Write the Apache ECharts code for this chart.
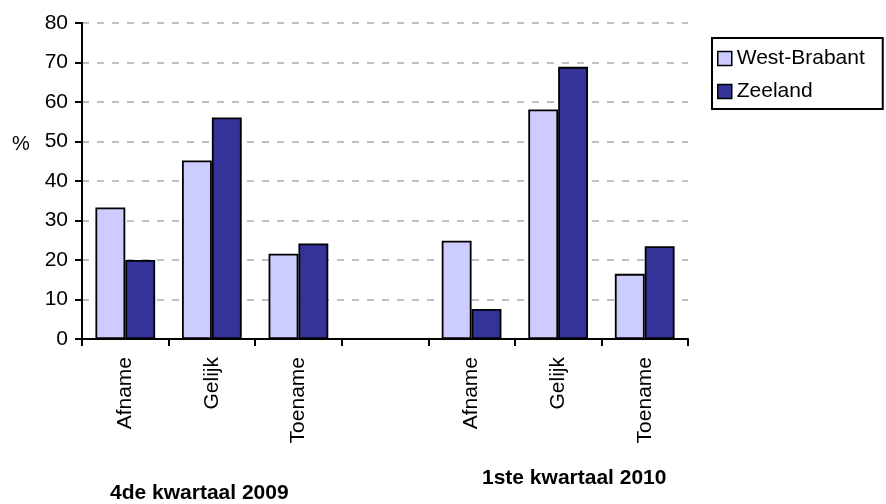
<!DOCTYPE html>
<html>
<head>
<meta charset="utf-8">
<script src="https://cdn.jsdelivr.net/npm/echarts@6/dist/echarts.min.js"></script>
<style>
html,body{margin:0;padding:0;background:#fff;}
#c{width:886px;height:504px;}
</style>
</head>
<body>
<div id="c"></div>
<script>
var categories = ['Afname', 'Gelijk', 'Toename', '', 'Afname', 'Gelijk', 'Toename'];
var westBrabant = [33.3, 45.2, 21.6, null, 24.9, 58.1, 16.5];
var zeeland = [20.0, 56.1, 24.2, null, 7.6, 68.9, 23.5];
var yTicks = {min: 0, max: 80, interval: 10};
var groupLabels = ['4de kwartaal 2009', '1ste kwartaal 2010'];
var seriesNames = ['West-Brabant', 'Zeeland'];

var FONT = 'Arial, "Liberation Sans", sans-serif';
var chart = echarts.init(document.getElementById('c'));
chart.setOption({
  animation: false,
  backgroundColor: '#ffffff',
  textStyle: {fontFamily: FONT},
  grid: {left: 82, right: 198, top: 23, bottom: 165, containLabel: false},
  legend: {
    orient: 'vertical',
    left: 712, top: 38,
    padding: [10, 18, 7, 5],
    itemGap: 12,
    itemWidth: 14, itemHeight: 14,
    borderColor: '#000', borderWidth: 2,
    icon: 'rect',
    itemStyle: {borderColor: '#000', borderWidth: 1.5},
    textStyle: {fontFamily: FONT, fontSize: 21, color: '#000', lineHeight: 21},
    data: seriesNames
  },
  xAxis: {
    type: 'category',
    data: categories,
    axisLine: {lineStyle: {color: '#000', width: 2}},
    axisTick: {show: true, length: 7, lineStyle: {color: '#000', width: 2}},
    axisLabel: {rotate: 90, margin: 18, fontSize: 21, color: '#000', fontFamily: FONT, interval: 0}
  },
  yAxis: {
    type: 'value',
    min: yTicks.min, max: yTicks.max, interval: yTicks.interval,
    axisLine: {show: true, lineStyle: {color: '#000', width: 2}},
    axisTick: {show: true, length: 7, lineStyle: {color: '#000', width: 2}},
    axisLabel: {margin: 14, fontSize: 21, color: '#000', fontFamily: FONT},
    splitLine: {show: true, lineStyle: {color: '#c0c0c0', width: 2, type: [7, 8]}}
  },
  graphic: [
    {type: 'text', left: 12, top: 134, style: {text: '%', font: '20px ' + FONT, fill: '#000'}},
    {type: 'text', left: 110, top: 483, style: {text: groupLabels[0], font: 'bold 21px ' + FONT, fill: '#000'}},
    {type: 'text', left: 482, top: 468, style: {text: groupLabels[1], font: 'bold 21px ' + FONT, fill: '#000'}}
  ],
  series: [
    {
      name: seriesNames[0], type: 'bar', data: westBrabant,
      barGap: '0%', barCategoryGap: '31%',
      itemStyle: {color: '#ccccff', borderColor: '#000', borderWidth: 1.8}
    },
    {
      name: seriesNames[1], type: 'bar', data: zeeland,
      barGap: '0%', barCategoryGap: '31%',
      itemStyle: {color: '#333399', borderColor: '#000', borderWidth: 1.8}
    }
  ]
});
</script>
</body>
</html>
